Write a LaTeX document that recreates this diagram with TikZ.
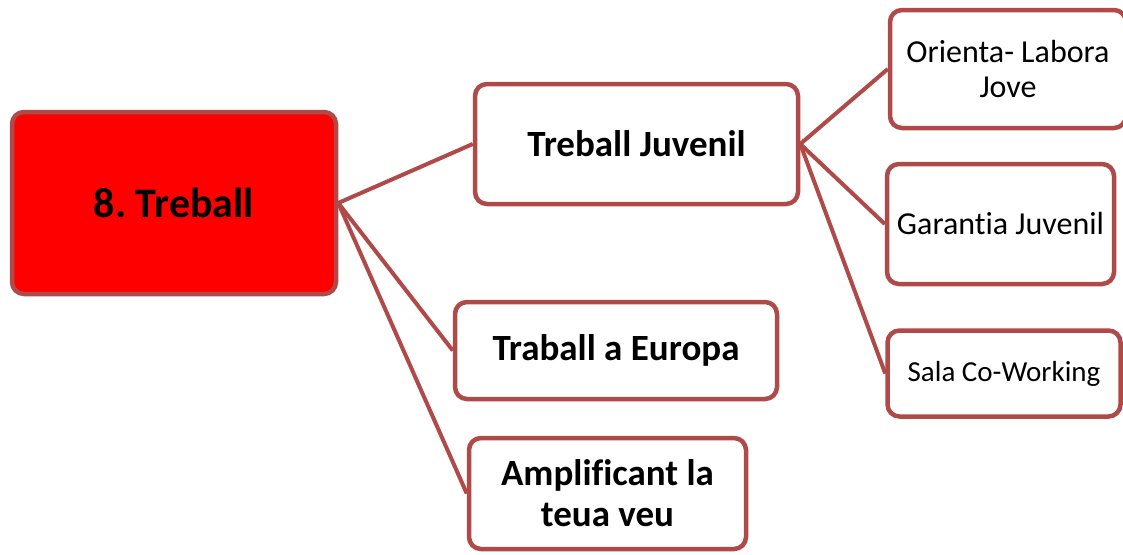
\documentclass[tikz,border=0pt]{standalone}
\usepackage{fontspec}
\setmainfont[Ligatures=NoCommon]{Carlito}
\frenchspacing
\definecolor{boxline}{RGB}{176,74,72}
\definecolor{topred}{RGB}{255,0,0}
\begin{document}
\begin{tikzpicture}
  [x=1pt,y=-1pt,every node/.style={rectangle,rounded corners=12pt,draw=boxline,
line width=4.5pt,fill=white,inner sep=0pt,align=center},
  link/.style={draw=boxline,line width=4pt}]
  \useasboundingbox (0,0) rectangle (1123,554);
  \node[fill=topred,minimum width=324pt,minimum height=182pt,font=\fontsize{42}{48}\selectfont\bfseries] (0) at (174,203) {8. Treball};
  \node[minimum width=323pt,minimum height=120pt,font=\fontsize{37}{42}\selectfont\bfseries] (1) at (636.5,144) {Treball Juvenil};
  \node[minimum width=322pt,minimum height=97pt,font=\fontsize{37}{42}\selectfont\bfseries] (2) at (616,350.5) {Traball a Europa};
  \node[minimum width=277pt,minimum height=111pt,font=\fontsize{37}{41}\selectfont\bfseries] (3) at (607.5,493.5) {Amplificant la\\teua veu};
  \node[minimum width=236pt,minimum height=118pt,font=\fontsize{32}{35}\selectfont] (4) at (1008,69) {Orienta- Labora\\Jove};
  \node[minimum width=227pt,minimum height=120pt,font=\fontsize{32}{36}\selectfont] (5) at (1000.5,224) {Garantia Juvenil};
  \node[minimum width=233pt,minimum height=86pt,font=\fontsize{29}{33}\selectfont] (6) at (1004,373.5) {Sala Co-Working};

  \draw[link] (0.east) -- (1.west);
  \draw[link] (0.east) -- (2.west);
  \draw[link] (0.east) -- (3.west);
  \draw[link] (1.east) -- (4.west);
  \draw[link] (1.east) -- (5.west);
  \draw[link] (1.east) -- (6.west);

\end{tikzpicture}
\end{document}
